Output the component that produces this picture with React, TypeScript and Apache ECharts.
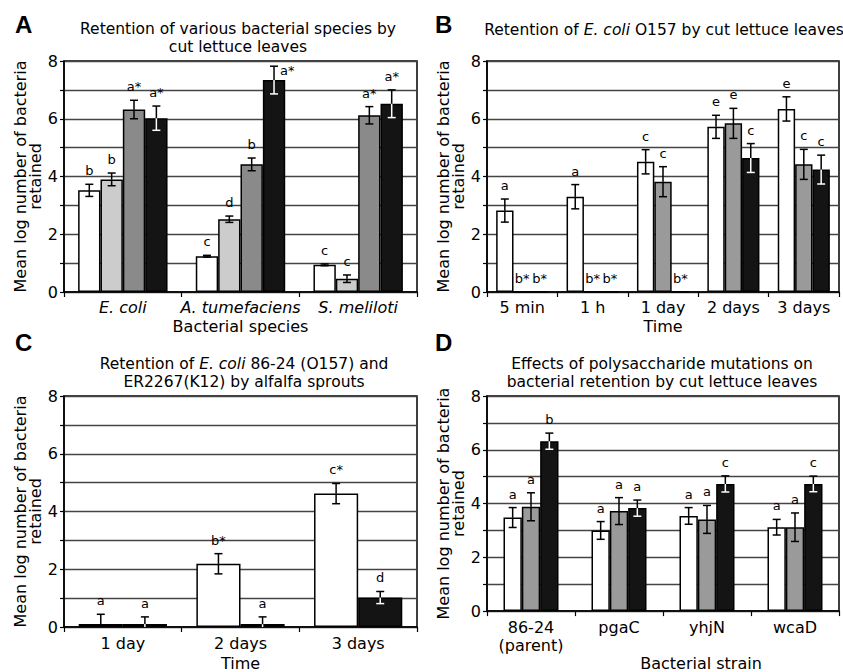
import React, { useEffect, useRef } from 'react';
import * as echarts from 'echarts';

const FONT = 'DejaVu Sans';
const Y_NAME = 'Mean log number of bacteria\nretained';

// ---- Panel A ----
const aCategories = ['E. coli', 'A. tumefaciens', 'S. meliloti'];
const aWhite = [3.52, 1.24, 0.94];
const aWhiteErr = [0.21, 0.03, 0.03];
const aWhiteLabels = ['b', 'c', 'c'];
const aLight = [3.9, 2.52, 0.46];
const aLightErr = [0.22, 0.11, 0.13];
const aLightLabels = ['b', 'd', 'c'];
const aGray = [6.32, 4.42, 6.12];
const aGrayErr = [0.32, 0.22, 0.3];
const aGrayLabels = ['a*', 'b', 'a*'];
const aBlack = [6.02, 7.34, 6.52];
const aBlackErr = [0.42, 0.48, 0.48];
const aBlackLabels = ['a*', 'a*', 'a*'];

// ---- Panel B ----
const bCategories = ['5 min', '1 h', '1 day', '2 days', '3 days'];
const bWhite = [2.82, 3.3, 4.51, 5.72, 6.34];
const bWhiteErr = [0.4, 0.42, 0.42, 0.4, 0.42];
const bWhiteLabels = ['a', 'a', 'c', 'e', 'e'];
const bGray = [0, 0, 3.82, 5.84, 4.42];
const bGrayErr = [0, 0, 0.52, 0.52, 0.52];
const bGrayLabels = ['b*', 'b*', 'c', 'e', 'c'];
const bBlack = [0, 0, 0, 4.64, 4.24];
const bBlackErr = [0, 0, 0, 0.5, 0.5];
const bBlackLabels = ['b*', 'b*', 'b*', 'c', 'c'];

// ---- Panel C ----
const cCategories = ['1 day', '2 days', '3 days'];
const cWhite = [0.1, 2.19, 4.62];
const cWhiteErr = [0.34, 0.35, 0.35];
const cWhiteLabels = ['a', 'b*', 'c*'];
const cBlack = [0.1, 0.1, 1.02];
const cBlackErr = [0.25, 0.25, 0.21];
const cBlackLabels = ['a', 'a', 'd'];

// ---- Panel D ----
const dCategories = ['86-24\n(parent)', 'pgaC', 'yhjN', 'wcaD'];
const dWhite = [3.48, 3.0, 3.54, 3.12];
const dWhiteErr = [0.37, 0.33, 0.31, 0.29];
const dWhiteLabels = ['a', 'a', 'a', 'a'];
const dGray = [3.88, 3.72, 3.41, 3.12];
const dGrayErr = [0.52, 0.5, 0.52, 0.53];
const dGrayLabels = ['a', 'a', 'a', 'a'];
const dBlack = [6.32, 3.83, 4.73, 4.73];
const dBlackErr = [0.3, 0.3, 0.3, 0.29];
const dBlackLabels = ['b', 'a', 'c', 'c'];

type S = { values: number[]; errs: number[]; labels: string[]; color: string; dark?: boolean };

const WHITE = '#ffffff';
const LIGHT = '#cccccc';
const GRAY_A = '#8a8a8a';
const GRAY = '#9a9a9a';
const BLACK = '#141414';

interface Panel {
  grid: { left: number; top: number; width: number; height: number };
  cats: string[];
  italic?: boolean;
  gap: number;
  series: S[];
  xName: string;
  xNameGap: number;
  xNamePad?: number;
  labelMargin: number;
}

const panels: Panel[] = [
  {
    grid: { left: 64, top: 61, width: 353, height: 231 },
    cats: aCategories,
    italic: true,
    gap: 0.24,
    series: [
      { values: aWhite, errs: aWhiteErr, labels: aWhiteLabels, color: WHITE },
      { values: aLight, errs: aLightErr, labels: aLightLabels, color: LIGHT },
      { values: aGray, errs: aGrayErr, labels: aGrayLabels, color: GRAY_A },
      { values: aBlack, errs: aBlackErr, labels: aBlackLabels, color: BLACK, dark: true },
    ],
    xName: 'Bacterial species',
    xNameGap: 26,
    labelMargin: 6,
  },
  {
    grid: { left: 487, top: 61, width: 352, height: 231 },
    cats: bCategories,
    gap: 0.26,
    series: [
      { values: bWhite, errs: bWhiteErr, labels: bWhiteLabels, color: WHITE },
      { values: bGray, errs: bGrayErr, labels: bGrayLabels, color: GRAY },
      { values: bBlack, errs: bBlackErr, labels: bBlackLabels, color: BLACK, dark: true },
    ],
    xName: 'Time',
    xNameGap: 26,
    labelMargin: 6,
  },
  {
    grid: { left: 64, top: 396, width: 353, height: 231 },
    cats: cCategories,
    gap: 0.25,
    series: [
      { values: cWhite, errs: cWhiteErr, labels: cWhiteLabels, color: WHITE },
      { values: cBlack, errs: cBlackErr, labels: cBlackLabels, color: BLACK, dark: true },
    ],
    xName: 'Time',
    xNameGap: 28,
    labelMargin: 7,
  },
  {
    grid: { left: 487, top: 396, width: 352, height: 231 },
    cats: dCategories,
    gap: 0.375,
    series: [
      { values: dWhite, errs: dWhiteErr, labels: dWhiteLabels, color: WHITE },
      { values: dGray, errs: dGrayErr, labels: dGrayLabels, color: GRAY },
      { values: dBlack, errs: dBlackErr, labels: dBlackLabels, color: BLACK, dark: true },
    ],
    xName: 'Bacterial strain',
    xNameGap: 28,
    xNamePad: 76,
    labelMargin: 7,
  },
];

const Y_MAX = 8;

function buildOption() {
  const grids: any[] = [];
  const xAxes: any[] = [];
  const yAxes: any[] = [];
  const series: any[] = [];

  panels.forEach((p, k) => {
    grids.push({
      ...p.grid,
      show: true,
      borderColor: '#000',
      borderWidth: 1.5,
      backgroundColor: 'transparent',
    });
    xAxes.push({
      gridIndex: k,
      type: 'category',
      data: p.cats,
      axisLine: { show: true, onZero: false, lineStyle: { color: '#000', width: 1.5 } },
      axisTick: { show: true, length: 5, alignWithLabel: false, lineStyle: { color: '#000', width: 1.2 } },
      axisLabel: {
        color: '#000',
        fontSize: 16,
        fontFamily: FONT,
        fontStyle: p.italic ? 'italic' : 'normal',
        margin: p.labelMargin,
        lineHeight: 18,
        interval: 0,
      },
      splitLine: { show: false },
      name: p.xName,
      nameLocation: 'middle',
      nameGap: p.xNameGap,
      nameTextStyle: {
        color: '#000',
        fontSize: 16,
        fontFamily: FONT,
        padding: p.xNamePad ? [0, 0, 0, p.xNamePad] : 0,
      },
    });
    yAxes.push({
      gridIndex: k,
      type: 'value',
      min: 0,
      max: Y_MAX,
      interval: 1,
      axisLine: { show: true, lineStyle: { color: '#000', width: 1.5 } },
      axisTick: { show: true, length: 4, lineStyle: { color: '#000', width: 1.2 } },
      axisLabel: {
        color: '#000',
        fontSize: 16,
        fontFamily: FONT,
        margin: 6,
        formatter: (v: number) => (v % 2 === 0 ? String(v) : ''),
      },
      splitLine: { show: true, lineStyle: { color: '#444', width: 1.3 } },
      name: Y_NAME,
      nameLocation: 'middle',
      nameRotate: 90,
      nameGap: 19,
      nameTextStyle: { color: '#000', fontSize: 16, fontFamily: FONT, lineHeight: 15 },
    });

    const n = p.series.length;
    p.series.forEach((s) => {
      series.push({
        type: 'bar',
        xAxisIndex: k,
        yAxisIndex: k,
        data: s.values,
        barGap: '0%',
        barCategoryGap: `${p.gap * 100}%`,
        itemStyle: { color: s.color, borderColor: '#000', borderWidth: 1.5 },
        emphasis: { disabled: true },
      });
    });

    // error bars + significance letters
    const items: { cat: number; si: number; val: number; lo: number; hi: number; label: string; dark: boolean }[] = [];
    p.series.forEach((s, si) => {
      s.values.forEach((v, ci) => {
        const e = s.errs[ci];
        items.push({
          cat: ci,
          si,
          val: v,
          lo: Math.max(0, v - e),
          hi: v + e,
          label: s.labels[ci],
          dark: !!s.dark,
        });
      });
    });
    series.push({
      type: 'custom',
      xAxisIndex: k,
      yAxisIndex: k,
      z: 10,
      clip: false,
      data: items.map((it) => [it.cat, it.hi]),
      encode: { x: 0, y: 1 },
      renderItem: (params: any, api: any) => {
        const it = items[params.dataIndex];
        const band = api.size([1, 0])[0];
        const groupW = band * (1 - p.gap);
        const bw = groupW / n;
        const c0 = api.coord([it.cat, 0]);
        const cx = c0[0] - groupW / 2 + bw * (it.si + 0.5);
        const y = (v: number) => api.coord([it.cat, v])[1];
        const children: any[] = [];
        const cap = 4;
        const lw = 1.5;
        const colorFor = (below: boolean) => (it.dark && below ? '#ffffff' : '#000000');
        if (it.hi > it.lo) {
          // part inside bar
          const inTop = Math.min(it.hi, it.val);
          if (inTop > it.lo) {
            children.push({
              type: 'line',
              shape: { x1: cx, y1: y(it.lo), x2: cx, y2: y(inTop) },
              style: { stroke: colorFor(true), lineWidth: lw },
            });
          }
          const outBot = Math.max(it.lo, it.val);
          if (it.hi > outBot) {
            children.push({
              type: 'line',
              shape: { x1: cx, y1: y(outBot), x2: cx, y2: y(it.hi) },
              style: { stroke: colorFor(false), lineWidth: lw },
            });
          }
          children.push({
            type: 'line',
            shape: { x1: cx - cap, y1: y(it.hi), x2: cx + cap, y2: y(it.hi) },
            style: { stroke: colorFor(it.hi <= it.val), lineWidth: lw },
          });
          if (it.lo > 0) {
            children.push({
              type: 'line',
              shape: { x1: cx - cap, y1: y(it.lo), x2: cx + cap, y2: y(it.lo) },
              style: { stroke: colorFor(it.lo < it.val), lineWidth: lw },
            });
          }
        }
        const hiY = y(it.hi);
        const topY = y(Y_MAX);
        const gapPx = 7;
        if (hiY - gapPx - 14 < topY - 4) {
          children.push({
            type: 'text',
            x: cx + cap + 2,
            y: hiY + 4,
            style: {
              text: it.label,
              fill: '#000',
              fontSize: 13,
              fontFamily: FONT,
              align: 'left',
              verticalAlign: 'middle',
            },
          });
        } else {
          children.push({
            type: 'text',
            x: cx,
            y: hiY - gapPx,
            style: {
              text: it.label,
              fill: '#000',
              fontSize: 13,
              fontFamily: FONT,
              align: 'center',
              verticalAlign: 'bottom',
            },
          });
        }
        return { type: 'group', children };
      },
    });
  });

  const letterStyle = { fontSize: 24, fontWeight: 'bold', fontFamily: 'Liberation Sans', color: '#000' };
  const titleStyle = {
    fontSize: 15.5,
    fontWeight: 'normal',
    fontFamily: FONT,
    color: '#000',
    lineHeight: 18,
    rich: {
      i: { fontStyle: 'italic', fontSize: 15.5, fontFamily: FONT, color: '#000', lineHeight: 18 },
    },
  };

  const titles = [
    { text: 'A', left: 15, top: 12, padding: 0, textStyle: letterStyle },
    { text: 'B', left: 435, top: 12, padding: 0, textStyle: letterStyle },
    { text: 'C', left: 15, top: 330, padding: 0, textStyle: letterStyle },
    { text: 'D', left: 435, top: 330, padding: 0, textStyle: letterStyle },
    {
      text: 'Retention of various bacterial species by\ncut lettuce leaves',
      left: 238,
      top: 20,
      padding: 0,
      textAlign: 'center',
      textStyle: titleStyle,
    },
    {
      text: 'Retention of {i|E. coli} O157 by cut lettuce leaves',
      left: 664,
      top: 21,
      padding: 0,
      textAlign: 'center',
      textStyle: titleStyle,
    },
    {
      text: 'Retention of {i|E. coli} 86-24 (O157) and\nER2267(K12) by alfalfa sprouts',
      left: 244,
      top: 355,
      padding: 0,
      textAlign: 'center',
      textStyle: titleStyle,
    },
    {
      text: 'Effects of polysaccharide mutations on\nbacterial retention by cut lettuce leaves',
      left: 662,
      top: 355,
      padding: 0,
      textAlign: 'center',
      textStyle: titleStyle,
    },
  ];

  return {
    animation: false,
    backgroundColor: '#ffffff',
    textStyle: { fontFamily: FONT },
    title: titles,
    grid: grids,
    xAxis: xAxes,
    yAxis: yAxes,
    series,
  };
}

export default function App() {
  const ref = useRef<HTMLDivElement>(null);
  useEffect(() => {
    document.body.style.margin = '0';
    if (!ref.current) return;
    const chart = echarts.init(ref.current, undefined, { renderer: 'svg' });
    chart.setOption(buildOption() as any);
    return () => chart.dispose();
  }, []);
  return <div ref={ref} style={{ width: 843, height: 672, position: 'absolute', left: 0, top: 0 }} />;
}
